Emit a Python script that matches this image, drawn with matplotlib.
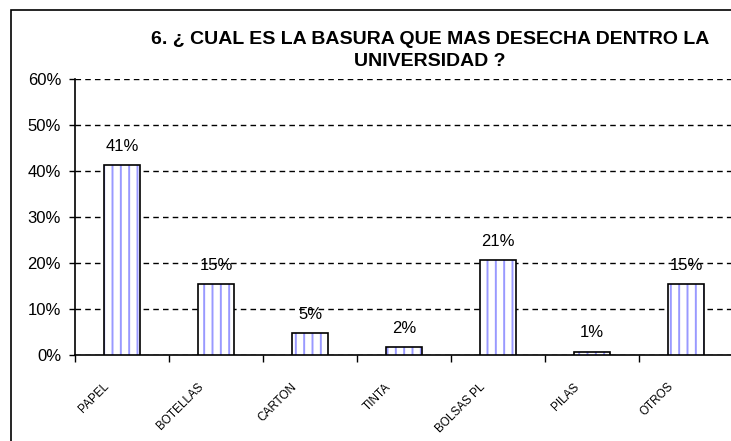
import matplotlib.pyplot as plt
from matplotlib.patches import Rectangle
from matplotlib.ticker import PercentFormatter

categorias = ['PAPEL', 'BOTELLAS', 'CARTON', 'TINTA', 'BOLSAS PL', 'PILAS', 'OTROS']
valores = [41.3, 15.4, 4.8, 1.7, 20.6, 0.7, 15.4]
etiquetas = ['41%', '15%', '5%', '2%', '21%', '1%', '15%']

plt.rcParams['font.family'] = ['Liberation Sans', 'DejaVu Sans']
plt.rcParams['hatch.linewidth'] = 1.4

fig = plt.figure(figsize=(7.31, 4.41), dpi=100)
ax = fig.add_axes([75 / 731, 86 / 441, 658 / 731, 276 / 441])

# outer chart border (right/bottom edges fall outside the image)
fig.patches.append(Rectangle((11 / 731, -0.1), 1.2, 0.1 + 431 / 441,
                             transform=fig.transFigure, fill=False,
                             edgecolor='black', linewidth=1.2))

x = range(len(categorias))
ax.bar(x, valores, width=0.39, color='white', edgecolor='#9999ff',
       hatch='||', linewidth=0, zorder=3)
ax.bar(x, valores, width=0.39, fill=False, edgecolor='black',
       linewidth=1.2, zorder=4)

for i, v in enumerate(valores):
    ax.text(i, v + 4.1, etiquetas[i], ha='center', va='center', fontsize=12, zorder=5)

ax.set_xlim(-0.5, len(categorias) - 0.5)
ax.set_ylim(0, 60)
ax.set_yticks(range(0, 61, 10))
ax.yaxis.set_major_formatter(PercentFormatter(decimals=0))
ax.grid(axis='y', linestyle=(0, (4, 3)), color='black', linewidth=1)
ax.set_axisbelow(True)

ax.set_xticks([i - 0.5 for i in range(len(categorias) + 1)])
ax.set_xticklabels([''] * (len(categorias) + 1))
ax.tick_params(axis='x', length=5, width=1)
ax.tick_params(axis='y', length=4, width=1, labelsize=12, pad=6)

for i, c in enumerate(categorias):
    ax.text(i - 0.2, -5.6, c, rotation=45, ha='right', va='top',
            rotation_mode='anchor', fontsize=8.5, transform=ax.transData)

for s in ['top', 'right']:
    ax.spines[s].set_visible(False)
ax.spines['left'].set_linewidth(1.2)
ax.spines['bottom'].set_linewidth(1.2)

fig.text(430 / 731, 1 - 40 / 441, '6. ¿ CUAL ES LA BASURA QUE MAS DESECHA DENTRO LA',
         ha='center', va='center', fontsize=14, fontweight='bold')
fig.text(430 / 731, 1 - 62 / 441, 'UNIVERSIDAD ?',
         ha='center', va='center', fontsize=14, fontweight='bold')

fig.savefig('out.png', dpi=100)
